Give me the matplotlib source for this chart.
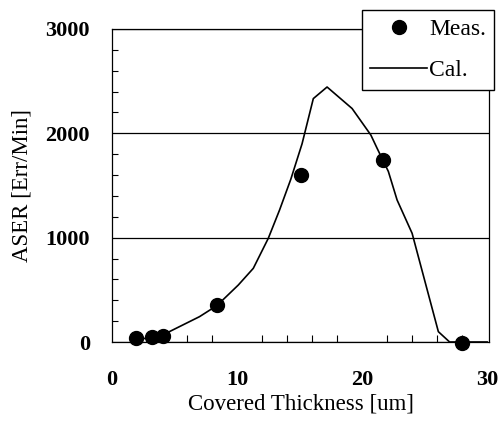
import numpy as np
import matplotlib.pyplot as plt
from matplotlib.ticker import MultipleLocator

# Измеренные точки
meas_x = [1.9, 3.2, 4.1, 8.4, 15.15, 21.7, 28.0]
meas_y = [38, 48, 54, 358, 1600, 1745, -8]

# Расчётная кривая
cal_x = [1.6, 4.1, 7.0, 8.4, 10.1, 11.3, 12.5, 13.4, 14.3, 15.2, 16.1, 17.2, 19.2, 20.7, 21.2, 22.1, 22.8, 24.0, 26.1, 27.0, 30.0]
cal_y = [10, 70, 243, 350, 546, 706, 994, 1265, 1560, 1900, 2333, 2444, 2238, 1984, 1857, 1635, 1361, 1042, 99, 0, 0]

plt.rcParams['font.family'] = ['Liberation Serif', 'DejaVu Serif']

fig = plt.figure(figsize=(5.01, 4.28), dpi=100)
ax = fig.add_axes([112/501, 1 - 342/428, (489-112)/501, (342-29)/428])

ax.plot(cal_x, cal_y, color='black', lw=1.2, label='Cal.', zorder=3)
ax.plot(meas_x, meas_y, 'o', color='black', ms=10, label='Meas.', zorder=4, clip_on=False)

ax.set_xlim(0, 30.15)
ax.set_ylim(0, 3000)
ax.xaxis.set_major_locator(MultipleLocator(10))
ax.xaxis.set_minor_locator(MultipleLocator(2))
ax.yaxis.set_major_locator(MultipleLocator(1000))
ax.yaxis.set_minor_locator(MultipleLocator(200))
ax.tick_params(which='both', direction='in', top=False, right=False)
ax.tick_params(which='major', length=0, labelsize=16)
ax.tick_params(axis='x', which='major', pad=20)
ax.tick_params(axis='y', which='major', pad=16)
ax.tick_params(which='minor', length=4, width=0.8)
ax.tick_params(axis='x', which='minor', length=5)
for lab in ax.get_xticklabels() + ax.get_yticklabels():
    lab.set_fontweight('bold')

ax.grid(axis='y', which='major', color='black', lw=0.9)
for s in ax.spines.values():
    s.set_linewidth(0.9)

ax.set_xlabel('Covered Thickness [um]', fontsize=16.5, labelpad=3)
ax.set_ylabel('ASER [Err/Min]', fontsize=16.5, labelpad=9)

handles, labels = ax.get_legend_handles_labels()
fig.legend(handles[::-1], labels[::-1], loc='upper left',
           bbox_to_anchor=(362/501, 1 - 10/428), fontsize=17,
           fancybox=False, edgecolor='black', framealpha=1,
           handlelength=2.4, handletextpad=0.1, borderpad=0.35,
           borderaxespad=0, labelspacing=0.85)

fig.savefig('out.png', dpi=100)
